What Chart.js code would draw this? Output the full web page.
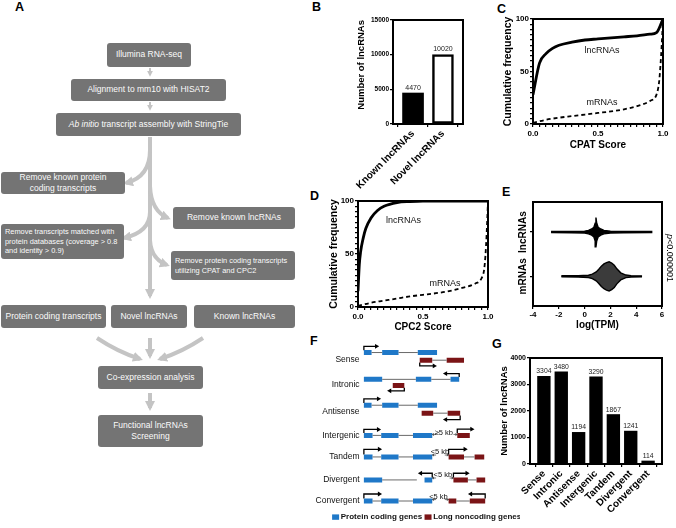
<!DOCTYPE html>
<html>
<head>
<meta charset="utf-8">
<script src="https://cdn.jsdelivr.net/npm/chart.js@4.4.0/dist/chart.umd.min.js"></script>
<style>
  body { margin: 0; width: 676px; height: 528px; position: relative; overflow: hidden; background: #fff; font-family: "Liberation Sans", Arial, sans-serif; }
  .tag { position: absolute; font-weight: bold; font-size: 12.5px; line-height: 1; }
  .box { position: absolute; background: #747474; color: #fbfbfb; border-radius: 3px; display: flex; align-items: center; justify-content: center; text-align: center; font-size: 8.5px; line-height: 1.3; box-sizing: border-box; }
  .box.small { font-size: 7.4px; justify-content: flex-start; text-align: left; padding-left: 4px; }
  canvas { position: absolute; }
</style>
</head>
<body>
<div class="tag" style="left:15px;top:1px">A</div>
<div class="tag" style="left:312px;top:1px">B</div>
<div class="tag" style="left:497px;top:3px">C</div>
<div class="tag" style="left:310px;top:190px">D</div>
<div class="tag" style="left:502px;top:186px">E</div>
<div class="tag" style="left:310px;top:335px">F</div>
<div class="tag" style="left:492px;top:338px">G</div>

<!-- panel A: pipeline -->
<svg width="300" height="460" style="position:absolute;left:0;top:0">
  <defs>
    <marker id="ah" viewBox="0 0 10 10" refX="7" refY="5" markerWidth="10" markerHeight="10" markerUnits="userSpaceOnUse" orient="auto">
      <path d="M0,0 L10,5 L0,10 z" fill="#c4c4c4"/>
    </marker>
    <marker id="ahs" viewBox="0 0 10 10" refX="7" refY="5" markerWidth="6" markerHeight="6" markerUnits="userSpaceOnUse" orient="auto">
      <path d="M0,0 L10,5 L0,10 z" fill="#c4c4c4"/>
    </marker>
  </defs>
  <g fill="none" stroke="#c4c4c4" stroke-width="4">
    <path d="M150,68 V75" stroke-width="2" marker-end="url(#ahs)"/>
    <path d="M150,102 V109" stroke-width="2" marker-end="url(#ahs)"/>
    <path d="M150,137 V296" marker-end="url(#ah)"/>
    <path d="M150,150 Q150,177 126,183" marker-end="url(#ah)"/>
    <path d="M150,186 Q151,211 168,218" marker-end="url(#ah)"/>
    <path d="M150,212 Q150,232 124,238" marker-end="url(#ah)"/>
    <path d="M150,240 Q151,259 167,265" marker-end="url(#ah)"/>
    <path d="M97,338 Q118,352 140,359" marker-end="url(#ah)"/>
    <path d="M203,338 Q182,352 160,359" marker-end="url(#ah)"/>
    <path d="M150,338 V356" marker-end="url(#ah)"/>
    <path d="M150,393 V408" marker-end="url(#ah)"/>
  </g>
</svg>
<div class="box" style="left:107px;top:43px;width:84px;height:24px">Illumina RNA-seq</div>
<div class="box" style="left:71px;top:79px;width:155px;height:22px">Alignment to mm10 with HISAT2</div>
<div class="box" style="left:56px;top:113px;width:185px;height:23px"><span><i>Ab initio</i> transcript assembly with StringTie</span></div>
<div class="box" style="left:1px;top:172px;width:124px;height:22px">Remove known protein<br>coding transcripts</div>
<div class="box" style="left:173px;top:207px;width:122px;height:22px">Remove known lncRNAs</div>
<div class="box small" style="left:1px;top:224px;width:123px;height:35px">Remove transcripts matched with<br>protein databases (coverage &gt; 0.8<br>and identity &gt; 0.9)</div>
<div class="box small" style="left:171px;top:251px;width:124px;height:29px">Remove protein coding transcripts<br>utilizing CPAT and CPC2</div>
<div class="box" style="left:1px;top:305px;width:105px;height:23px">Protein coding transcripts</div>
<div class="box" style="left:111px;top:305px;width:76px;height:23px">Novel lncRNAs</div>
<div class="box" style="left:194px;top:305px;width:101px;height:23px">Known lncRNAs</div>
<div class="box" style="left:98px;top:366px;width:105px;height:23px">Co-expression analysis</div>
<div class="box" style="left:98px;top:415px;width:105px;height:32px">Functional lncRNAs<br>Screening</div>

<script>
// ---------- data ----------
const bLabels = ['Known lncRNAs', 'Novel lncRNAs'];
const bCounts = [4470, 10020];

const cpatLncX = [0, 0.05, 0.1, 0.15, 0.2, 0.3, 0.4, 0.5, 0.6, 0.7, 0.8, 0.9, 0.95, 1.0];
const cpatLncY = [28, 58, 67, 72, 75, 78, 80, 81, 82, 83, 84, 85.5, 87, 100];
const cpatMrnaX = [0, 0.1, 0.2, 0.3, 0.4, 0.5, 0.6, 0.7, 0.8, 0.9, 0.95, 0.97, 0.98, 0.99, 1.0];
const cpatMrnaY = [1, 4, 6, 7.5, 9, 10.5, 12, 14, 17, 22, 28, 40, 55, 75, 100];

const cpc2LncX = [0, 0.01, 0.02, 0.04, 0.06, 0.1, 0.15, 0.2, 0.3, 0.4, 0.5, 1.0];
const cpc2LncY = [15, 40, 52, 65, 74, 84, 91, 95, 98.5, 99.5, 100, 100];
const cpc2MrnaX = [0, 0.1, 0.2, 0.3, 0.4, 0.5, 0.6, 0.7, 0.8, 0.9, 0.95, 0.97, 0.98, 0.99, 1.0];
const cpc2MrnaY = [1, 4, 6, 8, 10, 11.5, 13, 15, 18, 22, 27, 35, 48, 70, 100];

// violins: log(TPM) vs half width (group index 0 = mRNAs, 1 = lncRNAs)
const vioGroups = ['mRNAs', 'lncRNAs'];
const lncVX = [-2.6, -1, 0, 0.3, 0.55, 0.72, 0.82, 0.88, 0.94, 1.05, 1.25, 1.5, 2, 3, 5.2];
const lncVW = [0.012, 0.014, 0.02, 0.04, 0.07, 0.11, 0.2, 0.33, 0.2, 0.11, 0.07, 0.04, 0.02, 0.014, 0.012];
const mrnaVX = [-1.8, -0.5, 0.3, 0.6, 0.9, 1.1, 1.3, 1.5, 1.7, 1.9, 2.1, 2.3, 2.5, 2.8, 3.2, 3.6, 4.4];
const mrnaVW = [0.012, 0.014, 0.025, 0.05, 0.1, 0.16, 0.23, 0.28, 0.31, 0.33, 0.3, 0.25, 0.17, 0.08, 0.03, 0.016, 0.012];
const lncQX = [0.78, 0.88, 0.98];
const lncQW = [0.1, 0.27, 0.1];
const mrnaQX = [1.45, 1.95, 2.5];
const mrnaQW = [0.24, 0.3, 0.15];

const gLabels = ['Sense', 'Intronic', 'Antisense', 'Intergenic', 'Tandem', 'Divergent', 'Convergent'];
const gCounts = [3304, 3480, 1194, 3290, 1867, 1241, 114];

// panel F schematic: [row y, start, end]
const fRowY = [18, 45, 72.7, 97.7, 119.7, 143.7, 166];
const codingExons = [
  [11, 2, 10], [11, 21, 38], [11, 58, 78],
  [39, 2, 21], [39, 56, 72], [39, 92, 101],
  [66, 2, 10], [66, 21, 38], [66, 58, 78],
  [97.5, 2, 11], [97.5, 20, 38], [97.5, 53, 73],
  [120, 2, 11], [120, 20, 38], [120, 53, 73],
  [144, 2, 21], [144, 65, 73],
  [166, 2, 11], [166, 20, 38], [166, 53, 73]
];
const codingIntrons = [
  [11, 10, 21], [11, 38, 58],
  [39, 21, 56], [39, 72, 92],
  [66, 10, 21], [66, 38, 58],
  [97.5, 11, 20], [97.5, 38, 53],
  [120, 11, 20], [120, 38, 53],
  [144, 21, 57],
  [166, 11, 20], [166, 38, 53]
];
const lncExons = [
  [19, 60, 73], [19, 88, 106],
  [45.3, 32, 44],
  [74.3, 62, 74], [74.3, 89, 102],
  [97.5, 99, 112],
  [120, 90, 106], [120, 117, 127],
  [144, 95, 110], [144, 119, 128],
  [166, 90, 98], [166, 112, 128]
];
const lncIntrons = [
  [19, 73, 88], [74.3, 74, 89], [120, 106, 117], [144, 110, 119], [166, 98, 112]
];
// TSS arrows: [x, y start, y bend, x tip]
const tssArrows = [
  [2, 8.5, 4.5, 15], [60, 21.5, 25, 75],
  [101, 36.5, 33, 87], [44, 47.8, 51, 29],
  [2, 63.8, 59.3, 17], [102, 76.8, 81, 87],
  [2, 95, 91.3, 17], [99, 95, 91, 114],
  [2, 117.5, 112, 18], [90, 117.5, 112, 107],
  [73, 141.5, 137, 61], [95, 141.5, 137, 109],
  [2, 163.5, 158.7, 18], [128, 163.5, 158.7, 113]
];
// distance notes: [text, x centre, y text, gap start, gap end, y line]
const gapNotes = [
  ['\u22655 kb', 85, 94.7, 73, 99, 96.5],
  ['<5 kb', 81, 114.7, 73, 90, 118],
  ['<5 kb', 84, 139, 73, 95, 142],
  ['<5 kb', 79.5, 162, 73, 90, 164.5]
];

// ---------- helpers ----------
const FAM = '"Liberation Sans", Arial, sans-serif';
Chart.defaults.font.family = FAM;
Chart.defaults.color = '#000';
Chart.defaults.animation = false;
Chart.defaults.events = [];
Chart.defaults.plugins.legend.display = false;
Chart.defaults.plugins.tooltip.enabled = false;

const bold = (size) => ({ family: FAM, size, weight: 'bold' });
const tickGrid = { drawOnChartArea: false, color: '#000', lineWidth: 1.2, tickLength: 3 };
const axisLine = { color: '#000', width: 2 };
const fixY = (w) => (s) => { s.width = w; s.paddingTop = 0; s.paddingBottom = 0; };
const fixX = (h) => (s) => { s.height = h; s.paddingLeft = 0; s.paddingRight = 0; };
const pts = (xs, ys) => xs.map((x, i) => ({ x, y: ys[i] }));

function canvasAt(left, top, w, h) {
  const cv = document.createElement('canvas');
  cv.width = w; cv.height = h;
  cv.style.left = left + 'px'; cv.style.top = top + 'px';
  cv.style.width = w + 'px'; cv.style.height = h + 'px';
  document.body.appendChild(cv);
  return cv;
}

const frame = {
  id: 'frame',
  afterDatasetsDraw(c) {
    const a = c.chartArea, g = c.ctx;
    g.save(); g.strokeStyle = '#000'; g.lineWidth = 2;
    g.strokeRect(a.left, a.top, a.right - a.left, a.bottom - a.top);
    g.restore();
  }
};

const barValues = (size) => ({
  id: 'barValues',
  afterDatasetsDraw(c) {
    const g = c.ctx, ds = c.data.datasets[0];
    g.save(); g.font = `${size}px ${FAM}`; g.fillStyle = '#222';
    g.textAlign = 'center'; g.textBaseline = 'bottom';
    c.getDatasetMeta(0).data.forEach((bar, i) => g.fillText(String(ds.data[i].y), bar.x, bar.y - 1.5));
    g.restore();
  }
});

const notes = (items) => ({
  id: 'notes',
  afterDatasetsDraw(c) {
    const { ctx: g, scales: { x, y } } = c;
    g.save(); g.font = `9px ${FAM}`; g.fillStyle = '#111';
    g.textAlign = 'center'; g.textBaseline = 'middle';
    items.forEach(([t, vx, vy]) => g.fillText(t, x.getPixelForValue(vx), y.getPixelForValue(vy)));
    g.restore();
  }
});

// ---------- B ----------
new Chart(canvasAt(352, 12, 118, 178), {
  type: 'bar',
  data: {
    datasets: [{
      data: bCounts.map((v, i) => ({ x: i, y: v })),
      backgroundColor: ['#000', '#fff'],
      borderColor: '#000',
      borderWidth: [0, 2.5],
      borderSkipped: false,
      barThickness: 21
    }]
  },
  options: {
    responsive: false,
    layout: { padding: { top: 8, right: 7 } },
    scales: {
      x: {
        type: 'linear', min: -0.67, max: 1.67, offset: false,
        afterBuildTicks: (s) => { s.ticks = bLabels.map((_, i) => ({ value: i })); },
        afterFit: fixX(66),
        ticks: { callback: (v) => bLabels[v], autoSkip: false, minRotation: 45, maxRotation: 45, font: bold(10), padding: 1 },
        grid: tickGrid, border: axisLine
      },
      y: {
        min: 0, max: 15000,
        afterFit: fixY(41),
        ticks: { stepSize: 5000, font: bold(6.5), padding: 1, callback: (v) => String(v) },
        title: { display: true, text: 'Number of lncRNAs', font: bold(9.5), align: 'end' },
        grid: tickGrid, border: axisLine
      }
    }
  },
  plugins: [frame, barValues(7)]
});

// ---------- C and D ----------
function cumulChart(cv, lncX, lncY, mX, mY, yW, padTop, xH, xTitle, labels) {
  return new Chart(cv, {
    type: 'scatter',
    data: {
      datasets: [
        { data: pts(lncX, lncY), showLine: true, borderColor: '#000', borderWidth: 2.8, pointRadius: 0, cubicInterpolationMode: 'monotone' },
        { data: pts(mX, mY), showLine: true, borderColor: '#000', borderWidth: 1.8, borderDash: [4, 3], pointRadius: 0, cubicInterpolationMode: 'monotone' }
      ]
    },
    options: {
      responsive: false,
      layout: { padding: { top: padTop, right: 9 } },
      scales: {
        x: {
          min: 0, max: 1, afterFit: fixX(xH),
          ticks: {
            stepSize: 0.05, autoSkip: false, maxRotation: 0, font: bold(8), padding: 2,
            callback: (v) => { const r = Math.round(v * 100); return r % 50 === 0 ? (r / 100).toFixed(1) : ''; }
          },
          title: { display: true, text: xTitle, font: bold(10) },
          grid: tickGrid, border: axisLine
        },
        y: {
          min: 0, max: 100, afterFit: fixY(yW),
          ticks: { stepSize: 5, autoSkip: false, font: bold(8), padding: 1, callback: (v) => (v % 50 === 0 ? v : '') },
          title: { display: true, text: 'Cumulative frequency', font: bold(10.5) },
          grid: tickGrid, border: axisLine
        }
      }
    },
    plugins: [frame, notes(labels)]
  });
}

cumulChart(canvasAt(498, 0, 174, 155), cpatLncX, cpatLncY, cpatMrnaX, cpatMrnaY, 35, 19, 31, 'CPAT Score',
  [['lncRNAs', 0.53, 70], ['mRNAs', 0.53, 20]]);
cumulChart(canvasAt(324, 190, 173, 147), cpc2LncX, cpc2LncY, cpc2MrnaX, cpc2MrnaY, 34, 11, 30, 'CPC2 Score',
  [['lncRNAs', 0.35, 82], ['mRNAs', 0.67, 22]]);

// ---------- E ----------
function violin(xs, ws, c) {
  const top = xs.map((x, i) => ({ x, y: c + ws[i] }));
  const bot = xs.map((x, i) => ({ x, y: c - ws[i] })).reverse();
  return top.concat(bot);
}
function quartiles(xs, ws, c) {
  const out = [];
  xs.forEach((x, i) => out.push({ x, y: c - ws[i] }, { x, y: c + ws[i] }, { x, y: null }));
  return out;
}
const eText = {
  id: 'eText',
  afterDatasetsDraw(c) {
    const { ctx: g, chartArea: a, scales: { y } } = c;
    g.save();
    g.fillStyle = '#000'; g.textAlign = 'center'; g.textBaseline = 'middle';
    g.font = `bold 10px ${FAM}`;
    vioGroups.forEach((t, i) => {
      g.save(); g.translate(a.left - 10, y.getPixelForValue(i)); g.rotate(-Math.PI / 2);
      g.fillText(t, 0, 0); g.restore();
    });
    g.translate(a.right + 7, (a.top + a.bottom) / 2 + 4); g.rotate(Math.PI / 2);
    g.textAlign = 'left';
    g.font = `italic 9px ${FAM}`; const w1 = g.measureText('p').width;
    g.font = `9px ${FAM}`; const w2 = g.measureText('<0.000001').width;
    const x0 = -(w1 + w2) / 2;
    g.font = `italic 9px ${FAM}`; g.fillText('p', x0, 0);
    g.font = `9px ${FAM}`; g.fillText('<0.000001', x0 + w1, 0);
    g.restore();
  }
};
new Chart(canvasAt(505, 186, 171, 149), {
  type: 'scatter',
  data: {
    datasets: [
      { data: violin(lncVX, lncVW, 1), showLine: true, fill: 'shape', backgroundColor: '#000', borderColor: '#000', borderWidth: 1.4, pointRadius: 0, tension: 0 },
      { data: violin(mrnaVX, mrnaVW, 0), showLine: true, fill: 'shape', backgroundColor: '#3b3b3b', borderColor: '#000', borderWidth: 1.4, pointRadius: 0, tension: 0 },
      { data: quartiles(lncQX, lncQW, 1), showLine: true, borderColor: '#fff', borderWidth: 1, borderDash: [1.5, 1.2], pointRadius: 0, spanGaps: false },
      { data: quartiles(mrnaQX, mrnaQW, 0), showLine: true, borderColor: '#e8e8e8', borderWidth: 1, borderDash: [2, 1.5], pointRadius: 0, spanGaps: false }
    ]
  },
  options: {
    responsive: false,
    layout: { padding: { top: 16, right: 14 } },
    scales: {
      x: {
        min: -4, max: 6, afterFit: fixX(29),
        ticks: { stepSize: 2, font: bold(8), padding: 1, maxRotation: 0 },
        title: { display: true, text: 'log(TPM)', font: bold(10), padding: { top: 0, bottom: 4 } },
        grid: tickGrid, border: axisLine
      },
      y: {
        min: -0.67, max: 1.68, afterFit: fixY(28),
        afterBuildTicks: (s) => { s.ticks = vioGroups.map((_, i) => ({ value: i })); },
        ticks: { display: false },
        grid: tickGrid, border: axisLine
      }
    }
  },
  plugins: [frame, eText]
});

// ---------- F ----------
function segs(list) {
  const out = [];
  list.forEach(([y, a, b]) => out.push({ x: a, y }, { x: b, y }, { x: b, y: null }));
  return out;
}
function shafts(list) {
  const out = [];
  list.forEach(([x, y0, y1, tip]) => out.push({ x, y: y0 }, { x, y: y1 }, { x: tip, y: y1 }, { x: tip, y: null }));
  return out;
}
function gapStubs(list) {
  const out = [];
  list.forEach(([, , , a, b, y]) => out.push({ x: a, y }, { x: a + 4, y }, { x: a + 4, y: null }, { x: b - 4, y }, { x: b, y }, { x: b, y: null }));
  return out;
}
const fText = {
  id: 'fText',
  afterDatasetsDraw(c) {
    const { ctx: g, scales: { x, y } } = c;
    g.save(); g.fillStyle = '#111';
    g.font = `8.5px ${FAM}`; g.textAlign = 'right'; g.textBaseline = 'middle';
    gLabels.forEach((t, i) => g.fillText(t, x.getPixelForValue(-2.5), y.getPixelForValue(fRowY[i])));
    g.font = `7.5px ${FAM}`; g.textAlign = 'center';
    gapNotes.forEach(([t, cx, cy]) => g.fillText(t, x.getPixelForValue(cx), y.getPixelForValue(cy)));
    // legend
    const ly = y.getPixelForValue(182.8);
    g.fillStyle = '#1f78c8'; g.fillRect(x.getPixelForValue(-31), ly - 2.7, 7, 5.4);
    g.fillStyle = '#7b1416'; g.fillRect(x.getPixelForValue(65), ly - 2.7, 7, 5.4);
    g.fillStyle = '#111'; g.font = `bold 8px ${FAM}`; g.textAlign = 'left';
    g.fillText('Protein coding genes', x.getPixelForValue(-22), ly);
    g.fillText('Long noncoding genes', x.getPixelForValue(74), ly);
    g.restore();
  }
};
new Chart(canvasAt(305, 338, 215, 190), {
  type: 'scatter',
  data: {
    datasets: [
      { data: segs(codingIntrons), showLine: true, borderColor: '#6a6a6a', borderWidth: 1, pointRadius: 0, spanGaps: false },
      { data: segs(lncIntrons), showLine: true, borderColor: '#6a6a6a', borderWidth: 1, pointRadius: 0, spanGaps: false },
      { data: segs(codingExons), showLine: true, borderColor: '#1f78c8', borderWidth: 5, borderCapStyle: 'butt', pointRadius: 0, spanGaps: false },
      { data: segs(lncExons), showLine: true, borderColor: '#7b1416', borderWidth: 5, borderCapStyle: 'butt', pointRadius: 0, spanGaps: false },
      { data: shafts(tssArrows), showLine: true, borderColor: '#000', borderWidth: 1.3, pointRadius: 0, spanGaps: false },
      {
        data: tssArrows.map(([x, , y1, tip]) => ({ x: tip, y: y1 })),
        pointStyle: 'triangle', pointRadius: 2.8, backgroundColor: '#000', borderWidth: 0,
        rotation: tssArrows.map(([x, , , tip]) => (tip > x ? 90 : -90))
      },
      { data: gapStubs(gapNotes), showLine: true, borderColor: '#555', borderWidth: 0.8, pointRadius: 0, spanGaps: false },
      {
        data: gapNotes.flatMap(([, , , a, b, y]) => [{ x: a + 1, y }, { x: b - 1, y }]),
        pointStyle: 'triangle', pointRadius: 1.7, backgroundColor: '#555', borderWidth: 0,
        rotation: gapNotes.flatMap(() => [-90, 90])
      }
    ]
  },
  options: {
    responsive: false,
    layout: { padding: 0 },
    scales: {
      x: { display: false, min: -55, max: 160 },
      y: { display: false, min: 0, max: 190, reverse: true }
    }
  },
  plugins: [fText]
});

// ---------- G ----------
new Chart(canvasAt(495, 340, 176, 188), {
  type: 'bar',
  data: {
    datasets: [{
      data: gCounts.map((v, i) => ({ x: i, y: v })),
      backgroundColor: '#000',
      barThickness: 12.7
    }]
  },
  options: {
    responsive: false,
    layout: { padding: { top: 18, right: 9 } },
    scales: {
      x: {
        type: 'linear', min: -0.8, max: 6.8, offset: false,
        afterBuildTicks: (s) => { s.ticks = gLabels.map((_, i) => ({ value: i })); },
        afterFit: fixX(64),
        ticks: { callback: (v) => gLabels[v], autoSkip: false, minRotation: 45, maxRotation: 45, font: bold(10), padding: 1 },
        grid: tickGrid, border: axisLine
      },
      y: {
        min: 0, max: 4000,
        afterFit: fixY(35),
        ticks: { stepSize: 1000, font: bold(7), padding: 1, callback: (v) => String(v) },
        title: { display: true, text: 'Number of lncRNAs', font: bold(9.5) },
        grid: tickGrid, border: axisLine
      }
    }
  },
  plugins: [frame, barValues(6.8)]
});
</script>
</body>
</html>
